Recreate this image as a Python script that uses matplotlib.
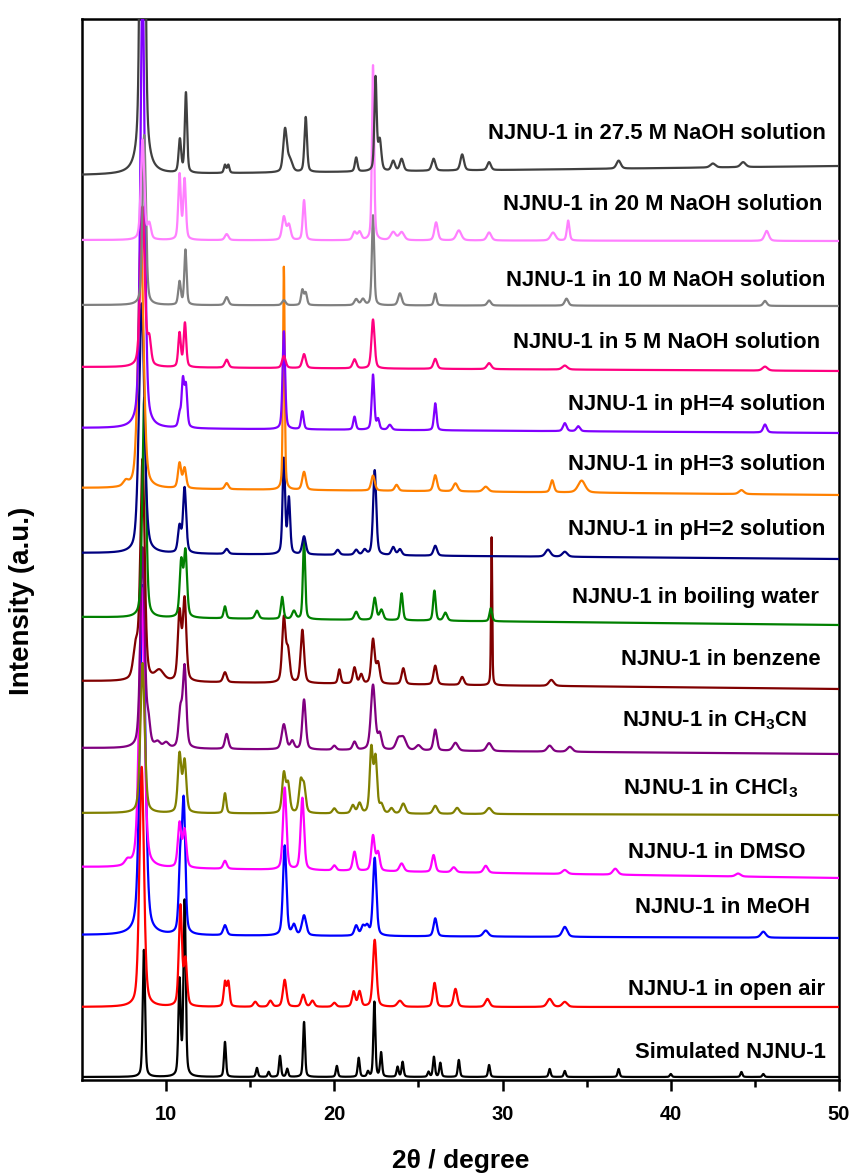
import numpy as np
import matplotlib.pyplot as plt

plt.rcParams['font.family'] = ['Liberation Sans', 'DejaVu Sans']
plt.rcParams['font.weight'] = 'bold'
plt.rcParams['mathtext.fontset'] = 'custom'
plt.rcParams['mathtext.bf'] = 'Liberation Sans:bold'
plt.rcParams['mathtext.rm'] = 'Liberation Sans:bold'
plt.rcParams['mathtext.default'] = 'bf'

# sample names, bottom to top
labels = ['Simulated NJNU-1', 'NJNU-1 in open air', 'NJNU-1 in MeOH', 'NJNU-1 in DMSO',
          'NJNU-1 in CHCl$_3$', 'NJNU-1 in CH$_3$CN', 'NJNU-1 in benzene',
          'NJNU-1 in boiling water', 'NJNU-1 in pH=2 solution', 'NJNU-1 in pH=3 solution',
          'NJNU-1 in pH=4 solution', 'NJNU-1 in 5 M NaOH solution',
          'NJNU-1 in 10 M NaOH solution', 'NJNU-1 in 20 M NaOH solution',
          'NJNU-1 in 27.5 M NaOH solution']
colors = ['#000000', '#ff0000', '#0000ff', '#ff00ff', '#808000', '#800080', '#800000',
          '#008000', '#000080', '#ff8000', '#8000ff', '#ff0080', '#808080', '#ff80ff',
          '#404040']

# baseline level (a.u.) at 2theta = 5 and 50
base_left = [3, 73, 145, 213, 267, 332, 399, 463, 527, 592, 652, 713, 775, 840, 905]
base_right = [3, 73, 142, 202, 265, 326, 391, 455, 521, 585, 647, 709, 774, 839, 914]

# peaks: (2theta, height, fwhm)
peaks = [
    # simulated
    [(8.68, 127, 0.16), (10.8, 95, 0.16), (11.1, 175, 0.16), (13.5, 35, 0.14), (15.4, 9, 0.14),
     (16.1, 5, 0.14), (16.77, 21, 0.14), (17.2, 8, 0.14), (18.2, 55, 0.14), (20.15, 11, 0.14),
     (21.45, 19, 0.14), (22.0, 5, 0.14), (22.38, 75, 0.14), (22.78, 24, 0.14), (23.76, 10, 0.14),
     (24.06, 15, 0.14), (25.6, 5, 0.14), (25.92, 20, 0.14), (26.3, 14, 0.14), (27.4, 17, 0.14),
     (29.2, 12, 0.14), (32.8, 8, 0.14), (33.7, 6, 0.14), (36.9, 8, 0.14), (40.0, 3, 0.14),
     (44.2, 5, 0.14), (45.5, 3, 0.14)],
    # open air
    [(8.55, 240, 0.32), (10.85, 100, 0.22), (11.15, 45, 0.22), (13.5, 24, 0.18), (13.7, 24, 0.18),
     (15.3, 5, 0.25), (16.2, 6, 0.25), (17.05, 27, 0.25), (18.15, 12, 0.25), (18.7, 6, 0.25),
     (20.0, 4, 0.25), (21.15, 15, 0.22), (21.5, 15, 0.22), (22.4, 67, 0.25), (23.9, 6, 0.35),
     (25.96, 24, 0.22), (27.2, 18, 0.25), (29.1, 8, 0.3), (32.8, 8, 0.35), (33.7, 5, 0.35)],
    # MeOH
    [(8.6, 350, 0.38), (10.85, 72, 0.22), (11.05, 127, 0.22), (13.5, 10, 0.25), (17.05, 90, 0.24),
     (17.6, 10, 0.25), (18.2, 20, 0.3), (21.3, 10, 0.25), (21.7, 9, 0.25), (21.95, 9, 0.25),
     (22.4, 78, 0.24), (26.0, 18, 0.24), (29.0, 6, 0.35), (33.7, 10, 0.35), (45.5, 6, 0.35)],
    # DMSO
    [(7.7, 5, 0.35), (8.55, 280, 0.36), (10.8, 44, 0.24), (11.1, 37, 0.24), (13.5, 8, 0.25),
     (17.05, 82, 0.24), (18.1, 72, 0.24), (20.0, 5, 0.25), (21.2, 19, 0.24), (22.3, 35, 0.24),
     (22.6, 18, 0.24), (24.0, 8, 0.3), (25.9, 17, 0.24), (27.1, 5, 0.3), (29.0, 7, 0.3),
     (33.7, 4, 0.35), (36.7, 6, 0.35), (44.0, 3, 0.35)],
    # CHCl3
    [(8.6, 150, 0.3), (10.8, 58, 0.24), (11.1, 51, 0.24), (13.5, 20, 0.18), (17.0, 39, 0.24),
     (17.25, 28, 0.24), (18.0, 30, 0.24), (18.2, 25, 0.24), (20.0, 5, 0.25), (21.1, 8, 0.25),
     (21.5, 10, 0.25), (22.2, 64, 0.22), (22.45, 54, 0.22), (22.8, 8, 0.25), (23.4, 5, 0.25),
     (24.1, 10, 0.3), (26.0, 8, 0.3), (27.3, 6, 0.3), (29.2, 6, 0.35)],
    # CH3CN
    [(8.6, 200, 0.3), (8.95, 22, 0.24), (9.5, 5, 0.35), (10.0, 5, 0.35), (10.85, 36, 0.25),
     (11.1, 80, 0.24), (13.6, 15, 0.24), (17.0, 25, 0.3), (17.5, 8, 0.25), (18.2, 50, 0.24),
     (20.0, 4, 0.25), (21.2, 8, 0.25), (22.3, 65, 0.3), (22.7, 15, 0.25), (23.8, 10, 0.35),
     (24.1, 12, 0.4), (25.0, 5, 0.35), (26.0, 21, 0.24), (27.2, 8, 0.35), (29.2, 8, 0.35),
     (32.8, 6, 0.35), (34.0, 5, 0.35)],
    # benzene
    [(8.2, 31, 0.35), (8.6, 220, 0.3), (9.6, 10, 0.6), (10.8, 68, 0.24), (11.1, 81, 0.24),
     (13.5, 10, 0.25), (17.0, 64, 0.24), (17.25, 30, 0.24), (18.1, 53, 0.24), (20.3, 14, 0.18),
     (21.2, 16, 0.22), (21.6, 9, 0.22), (22.3, 44, 0.24), (22.6, 20, 0.24), (24.1, 16, 0.24),
     (26.0, 19, 0.24), (27.6, 8, 0.25), (29.35, 148, 0.08), (32.9, 6, 0.35)],
    # boiling water
    [(8.7, 220, 0.26), (10.9, 55, 0.22), (11.15, 65, 0.22), (13.5, 12, 0.18), (15.4, 8, 0.25),
     (16.9, 22, 0.18), (17.6, 8, 0.25), (18.2, 80, 0.16), (21.3, 8, 0.25), (22.4, 22, 0.22),
     (22.8, 10, 0.25), (24.0, 27, 0.18), (25.95, 30, 0.18), (26.6, 8, 0.25), (29.3, 13, 0.18)],
    # pH=2
    [(8.55, 250, 0.38), (10.8, 26, 0.22), (11.1, 65, 0.22), (13.6, 5, 0.25), (17.0, 95, 0.18),
     (17.3, 55, 0.18), (18.2, 18, 0.25), (20.2, 5, 0.25), (21.3, 5, 0.25), (21.8, 5, 0.25),
     (22.4, 85, 0.22), (23.5, 8, 0.25), (23.9, 6, 0.25), (26.0, 10, 0.25), (32.7, 7, 0.35),
     (33.7, 5, 0.35)],
    # pH=3
    [(7.6, 5, 0.35), (8.5, 250, 0.38), (10.8, 25, 0.22), (11.1, 20, 0.22), (13.6, 6, 0.25),
     (17.0, 223, 0.12), (18.2, 18, 0.25), (22.3, 15, 0.25), (23.7, 6, 0.25), (26.0, 16, 0.25),
     (27.2, 8, 0.3), (29.0, 5, 0.35), (32.95, 12, 0.24), (34.7, 12, 0.5), (44.2, 4, 0.35)],
    # pH=4
    [(8.6, 450, 0.3), (10.8, 12, 0.18), (11.0, 46, 0.18), (11.18, 40, 0.18), (17.0, 98, 0.18),
     (18.1, 18, 0.18), (21.2, 13, 0.18), (22.3, 55, 0.18), (22.6, 10, 0.18), (23.3, 5, 0.25),
     (26.0, 27, 0.18), (33.7, 8, 0.25), (34.5, 5, 0.25), (45.6, 8, 0.25)],
    # 5 M NaOH
    [(8.6, 160, 0.3), (9.0, 25, 0.24), (10.8, 34, 0.18), (11.12, 44, 0.18), (13.6, 8, 0.25),
     (17.0, 12, 0.25), (18.2, 14, 0.25), (21.2, 9, 0.25), (22.3, 49, 0.22), (26.0, 10, 0.25),
     (29.2, 6, 0.3), (33.7, 4, 0.35), (45.6, 4, 0.35)],
    # 10 M NaOH
    [(8.7, 170, 0.24), (10.8, 23, 0.18), (11.15, 55, 0.16), (13.6, 8, 0.25), (17.0, 5, 0.25),
     (18.1, 15, 0.18), (18.3, 12, 0.18), (21.3, 6, 0.25), (21.7, 6, 0.25), (22.3, 90, 0.16),
     (23.9, 12, 0.25), (26.0, 12, 0.18), (29.2, 5, 0.25), (33.8, 7, 0.25), (45.6, 5, 0.25)],
    # 20 M NaOH
    [(8.6, 100, 0.24), (9.0, 15, 0.24), (10.8, 65, 0.18), (11.1, 60, 0.18), (13.6, 6, 0.25),
     (17.0, 23, 0.25), (17.3, 15, 0.25), (18.2, 40, 0.18), (21.2, 8, 0.25), (21.5, 8, 0.25),
     (22.3, 175, 0.15), (23.5, 8, 0.35), (24.0, 8, 0.35), (26.05, 18, 0.24), (27.4, 10, 0.35),
     (29.2, 8, 0.3), (33.0, 8, 0.35), (33.9, 20, 0.18), (45.7, 10, 0.3)],
    # 27.5 M NaOH
    [(8.6, 1000, 0.24), (10.82, 33, 0.18), (11.18, 80, 0.16), (13.5, 8, 0.15), (13.7, 8, 0.15),
     (17.07, 42, 0.25), (17.35, 12, 0.35), (18.3, 55, 0.18), (21.3, 14, 0.18), (22.45, 93, 0.16),
     (22.7, 30, 0.22), (23.5, 10, 0.25), (24.0, 12, 0.25), (25.9, 12, 0.25), (27.6, 16, 0.25),
     (29.2, 8, 0.25), (36.9, 8, 0.3), (42.5, 4, 0.35), (44.3, 5, 0.35)],
]

# label placement
label_x = [49.2, 49.2, 48.3, 48.0, 47.6, 48.1, 48.9, 48.8, 49.2, 49.2, 49.2, 48.9, 49.2, 49.0, 49.2]
label_y = [27, 90, 172, 227, 292, 360, 420, 482, 550, 615, 675, 737, 799, 875, 947]

x = np.linspace(5, 50, 9001)


def profile(x, pos, h, w):
    g = np.exp(-4 * np.log(2) * (x - pos) ** 2 / w ** 2)
    l = 1 / (1 + 4 * (x - pos) ** 2 / w ** 2)
    return h * (0.6 * g + 0.4 * l)


fig = plt.figure(figsize=(8.53, 11.73), dpi=100)
ax = fig.add_axes([0.0961, 0.0793, 0.8875, 0.9045])

for i in range(len(labels)):
    y = np.interp(x, [5, 50], [base_left[i], base_right[i]])
    for pos, h, w in peaks[i]:
        y = y + profile(x, pos, h, w)
    ax.plot(x, y, color=colors[i], lw=1.6, zorder=2 + i)
    ax.text(label_x[i], label_y[i], labels[i], ha='right', va='center',
            fontsize=15.8, fontweight='bold', zorder=30)

ax.set_xlim(5, 50)
ax.set_ylim(0, 1061)
ax.set_yticks([])
ax.set_xticks([10, 20, 30, 40, 50])
ax.set_xticks([15, 25, 35, 45], minor=True)
ax.tick_params(axis='x', which='major', length=8, width=1.8, direction='out',
               labelsize=14.5, pad=10)
ax.tick_params(axis='x', which='minor', length=5, width=1.8, direction='out')
for lab in ax.get_xticklabels():
    lab.set_fontweight('bold')
for sp in ax.spines.values():
    sp.set_linewidth(1.8)

ax.set_xlabel('2θ / degree', fontsize=19, fontweight='bold', labelpad=18)
ax.set_ylabel('Intensity (a.u.)', fontsize=20, fontweight='bold')
ax.yaxis.set_label_coords(-0.062, 0.452)

fig.savefig('out.png', dpi=100)
